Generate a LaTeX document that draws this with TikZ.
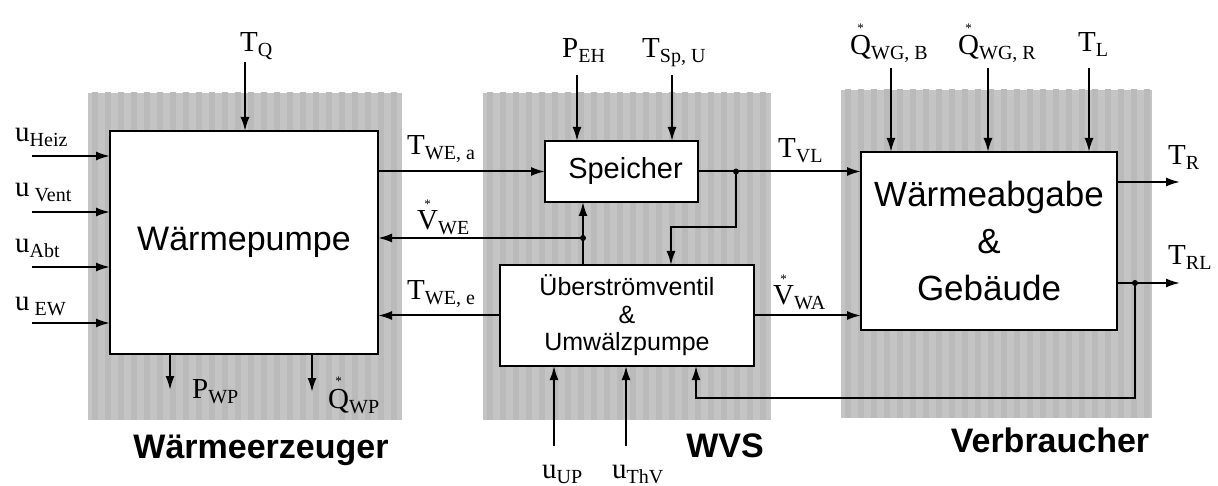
\documentclass[tikz,border=0pt]{standalone}
\usepackage{fontspec}
\setmainfont{Liberation Serif}
\setsansfont{Liberation Sans}
\usetikzlibrary{arrows.meta}
\newcommand\lab[2]{{\fontsize{29}{29}\selectfont #1}\raisebox{-5pt}{\fontsize{20}{20}\selectfont #2}}
\newcommand\sym[1]{\vbox{\offinterlineskip\halign{\hfil##\hfil\cr{\fontsize{13}{13}\selectfont *}\cr\noalign{\kern 3pt}{\fontsize{29}{29}\selectfont #1}\cr}}}
\begin{document}
\begin{tikzpicture}[x=1pt,y=-1pt,
  panel/.style={inner sep=0pt,outer sep=0pt,fill=black!23,
    path picture={\foreach \i in {0,...,25}{\fill[black!27] ([xshift=\i*13pt+4pt]path picture bounding box.south west) rectangle ++(6pt,500pt);}}},
  box/.style={draw,line width=2.2pt,fill=white,inner sep=0pt,outer sep=0pt,font=\sffamily,align=center},
  arr/.style={line width=2pt,-{Latex[length=14pt,width=9pt]}},
  lbl/.style={anchor=base west,inner sep=0pt},
  grp/.style={anchor=base,inner sep=0pt,font=\sffamily\bfseries\fontsize{34}{34}\selectfont},
  dot/.style={circle,fill,inner sep=0pt,minimum size=6pt}]
\useasboundingbox (0,0) rectangle (1218,486);
\fill[white] (0,0) rectangle (1218,486);
% panels
\node[panel,minimum width=314pt,minimum height=327pt] (p1) at (245,256.5) {};
\node[panel,minimum width=288pt,minimum height=327pt] (p2) at (627,256.5) {};
\node[panel,minimum width=311pt,minimum height=328pt] (p3) at (996.5,254) {};
% boxes
\node[box,minimum width=268pt,minimum height=223pt,font=\sffamily\fontsize{34}{34}\selectfont] (wp) at (244,242.5) {Wärmepumpe};
\node[box,minimum width=153pt,minimum height=61pt,font=\sffamily\fontsize{29}{29}\selectfont] (sp) at (621.5,171.5) {\hspace*{8pt}Speicher};
\node[box,minimum width=254pt,minimum height=101pt,font=\sffamily\fontsize{25}{27.5}\selectfont] (uv) at (627,315.5) {Überströmventil\\\&\\Umwälzpumpe};
\node[box,minimum width=256pt,minimum height=178pt,font=\sffamily\fontsize{35}{47}\selectfont] (wa) at (989,241) {Wärmeabgabe\\\&\\Gebäude};
% group labels
\node[grp] (g1) at (261,458) {Wärmeerzeuger};
\node[grp] (g2) at (725,457) {WVS};
\node[grp] (g3) at (1050,452) {Verbraucher};
% coordinates
\coordinate (tq) at (245,62);
\coordinate (i1) at (32,156);
\coordinate (i2) at (32,212);
\coordinate (i3) at (32,267);
\coordinate (i4) at (32,323);
\coordinate (pwp) at (170,390);
\coordinate (qwp) at (312,392);
\coordinate (j1) at (583,238);
\coordinate (j2) at (736,171.5);
\coordinate (k) at (671,227);
\coordinate (peh) at (577,75);
\coordinate (tsp) at (672,75);
\coordinate (uup) at (554,446);
\coordinate (uthv) at (626,446);
\coordinate (qb) at (891,68);
\coordinate (qr) at (988,68);
\coordinate (tl) at (1089,68);
\coordinate (tr) at (1180,182);
\coordinate (trl) at (1180,283);
\coordinate (j3) at (1135,283);
\coordinate (r) at (696,398);
% connectors
\draw[arr] (tq) -- (wp.north -| tq);
\foreach \c in {i1,i2,i3,i4}{\draw[arr] (\c) -- (wp.west |- \c);}
\draw[arr] (wp.south -| pwp) -- (pwp);
\draw[arr] (wp.south -| qwp) -- (qwp);
\draw[arr] (wp.east |- sp.west) -- (sp.west);
\draw[arr] (uv.north -| j1) -- (sp.south -| j1);
\draw[arr] (j1) -- (wp.east |- j1);
\draw[arr] (uv.west) -- (wp.east |- uv.west);
\draw[arr] (sp.east) -- (wa.west |- sp.east);
\draw[arr] (j2) |- (k) -- (uv.north -| k);
\draw[arr] (uv.east) -- (wa.west |- uv.east);
\draw[arr] (peh) -- (sp.north -| peh);
\draw[arr] (tsp) -- (sp.north -| tsp);
\draw[arr] (uup) -- (uv.south -| uup);
\draw[arr] (uthv) -- (uv.south -| uthv);
\draw[arr] (qb) -- (wa.north -| qb);
\draw[arr] (qr) -- (wa.north -| qr);
\draw[arr] (tl) -- (wa.north -| tl);
\draw[arr] (wa.east |- tr) -- (tr);
\draw[arr] (wa.east |- trl) -- (trl);
\draw[arr] (j3) |- (r) -- (uv.south -| r);
\node[dot] (d1) at (j1) {};
\node[dot] (d2) at (j2) {};
\node[dot] (d3) at (j3) {};
% labels
\node[lbl] (ltq) at (240,52) {\lab{T}{Q}};
\node[lbl] (lu1) at (15,142) {\lab{u}{Heiz}};
\node[lbl] (lu2) at (15,197) {\lab{u}{ Vent}};
\node[lbl] (lu3) at (15,253) {\lab{u}{Abt}};
\node[lbl] (lu4) at (15,311) {\lab{u}{ EW}};
\node[lbl] (lpwp) at (192,398) {\lab{P}{WP}};
\node[lbl] (lqwp) at (328,408) {\lab{\sym{Q}}{WP}};
\node[lbl] (ltwea) at (407,155) {\lab{T}{WE, a}};
\node[lbl] (lvwe) at (417,230) {\lab{\sym{V}}{WE}};
\node[lbl] (ltwee) at (407,300) {\lab{T}{WE, e}};
\node[lbl] (lpeh) at (562,58) {\lab{P}{EH}};
\node[lbl] (ltsp) at (642,58) {\lab{T}{Sp, U}};
\node[lbl] (ltvl) at (778,158) {\lab{T}{VL}};
\node[lbl] (lvwa) at (773,305) {\lab{\sym{V}}{WA}};
\node[lbl] (luup) at (542,478) {\lab{u}{UP}};
\node[lbl] (luthv) at (612,478) {\lab{u}{ThV}};
\node[lbl] (lqb) at (850,55) {\lab{\sym{Q}}{WG, B}};
\node[lbl] (lqr) at (958,55) {\lab{\sym{Q}}{WG, R}};
\node[lbl] (ltl) at (1078,52) {\lab{T}{L}};
\node[lbl] (ltr) at (1168,165) {\lab{T}{R}};
\node[lbl] (ltrl) at (1168,265) {\lab{T}{RL}};
\end{tikzpicture}
\end{document}
